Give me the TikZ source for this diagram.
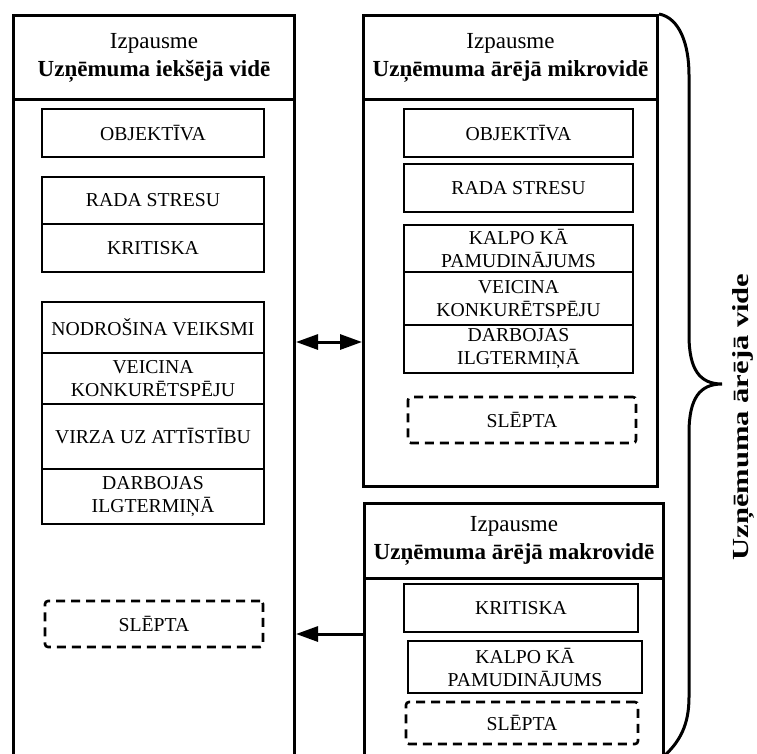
\documentclass[tikz,border=0pt]{standalone}
\usepackage{fontspec}
\setmainfont{Liberation Serif}
\usepackage{graphicx}
\usetikzlibrary{positioning}
\usetikzlibrary{arrows.meta}

\tikzset{
  bigbox/.style={draw, line width=3pt, anchor=north west, inner sep=0pt},
  itembox/.style={draw, line width=1.8pt, inner sep=0pt, align=center, font=\fontsize{19.7}{23}\selectfont},
  hiddenbox/.style={itembox, dash pattern=on 9pt off 6pt, line width=2.6pt, rounded corners=3pt},
  headtext/.style={align=center, font=\fontsize{23}{28}\selectfont},
  link/.style={line width=3pt, -{Triangle[length=22pt,width=15pt]}},
  twoway/.style={line width=3pt, {Triangle[length=22pt,width=15pt]}-{Triangle[length=22pt,width=15pt]}}
}

\begin{document}
\begin{tikzpicture}[x=1pt,y=-1pt]
 \useasboundingbox (0,0) rectangle (757,753);
 \clip (0,0) rectangle (757,753);

 \node[bigbox,minimum width=281pt,minimum height=84pt] (videhead) at (12,14) {};
 \node[bigbox,minimum width=281pt,minimum height=662pt] (videbody) at (12,98) {};
 \node[headtext] (videtitle) at (videhead.center) {Izpausme\\\textbf{Uzņēmuma iekšējā vidē}};

 \node[bigbox,minimum width=294pt,minimum height=84pt] (mikrohead) at (362,14) {};
 \node[bigbox,minimum width=294pt,minimum height=387pt] (mikrobody) at (362,98) {};
 \node[headtext] (mikrotitle) at (mikrohead.center) {Izpausme\\\textbf{Uzņēmuma ārējā mikrovidē}};

 \node[bigbox,minimum width=299pt,minimum height=75pt] (makrohead) at (363,502) {};
 \node[bigbox,minimum width=299pt,minimum height=183pt] (makrobody) at (363,577) {};
 \node[headtext] (makrotitle) at (makrohead.center) {Izpausme\\\textbf{Uzņēmuma ārējā makrovidē}};

 \node[itembox,minimum width=222pt,minimum height=48pt] (objL) at (153,133) {OBJEKTĪVA};
 \node[itembox,minimum width=222pt,minimum height=47pt] (radaL) at (153,200.5) {RADA STRESU};
 \node[itembox,minimum width=222pt,minimum height=48pt] (kritL) at (153,248) {KRITISKA};
 \node[itembox,minimum width=222pt,minimum height=51pt] (nodrL) at (153,327.5) {NODROŠINA VEIKSMI};
 \node[itembox,minimum width=222pt,minimum height=51pt] (veicL) at (153,378.5) {VEICINA\\KONKURĒTSPĒJU};
 \node[itembox,minimum width=222pt,minimum height=65pt] (virzL) at (153,436.5) {VIRZA UZ ATTĪSTĪBU};
 \node[itembox,minimum width=222pt,minimum height=55pt] (darbL) at (153,496.5) {DARBOJAS\\ILGTERMIŅĀ};
 \node[hiddenbox,minimum width=218pt,minimum height=46pt] (slepL) at (154,624) {SLĒPTA};

 \node[itembox,minimum width=229pt,minimum height=48pt] (objM) at (518.5,133) {OBJEKTĪVA};
 \node[itembox,minimum width=229pt,minimum height=48pt] (radaM) at (518.5,188) {RADA STRESU};
 \node[itembox,minimum width=229pt,minimum height=47pt] (kalpM) at (518.5,248.5) {KALPO KĀ\\PAMUDINĀJUMS};
 \node[itembox,minimum width=229pt,minimum height=53pt] (veicM) at (518.5,298.5) {VEICINA\\KONKURĒTSPĒJU};
 \node[itembox,minimum width=229pt,minimum height=48pt] (darbM) at (518.5,349) {DARBOJAS\\ILGTERMIŅĀ};
 \node[hiddenbox,minimum width=228pt,minimum height=46pt] (slepM) at (522,420) {SLĒPTA};

 \node[itembox,minimum width=234pt,minimum height=48pt] (kritR) at (521,608) {KRITISKA};
 \node[itembox,minimum width=234pt,minimum height=52pt] (kalpR) at (525,667) {KALPO KĀ\\PAMUDINĀJUMS};
 \node[hiddenbox,minimum width=232pt,minimum height=42pt] (slepR) at (522,723) {SLĒPTA};

 \coordinate (rowA) at (0,342);
 \coordinate (rowB) at (0,634);
 \draw[twoway] (videbody.east |- rowA) -- (mikrobody.west |- rowA);
 \draw[link] (makrobody.west |- rowB) -- (videbody.east |- rowB);

 \draw[line width=3pt] (mikrohead.north east) .. controls (680,18) and (689,45) .. (689,75) -- (689,335)
   .. controls (689,370) and (700,384) .. (722,384) .. controls (700,384) and (689,398) .. (689,433)
   -- (689,697) .. controls (689,725) and (680,742) .. (662,758);
 \node[rotate=90,font=\bfseries\fontsize{23}{28}\selectfont] (outer) at (743,417) {\scalebox{1.33}[1]{Uzņēmuma ārējā vide}};
\end{tikzpicture}
\end{document}
